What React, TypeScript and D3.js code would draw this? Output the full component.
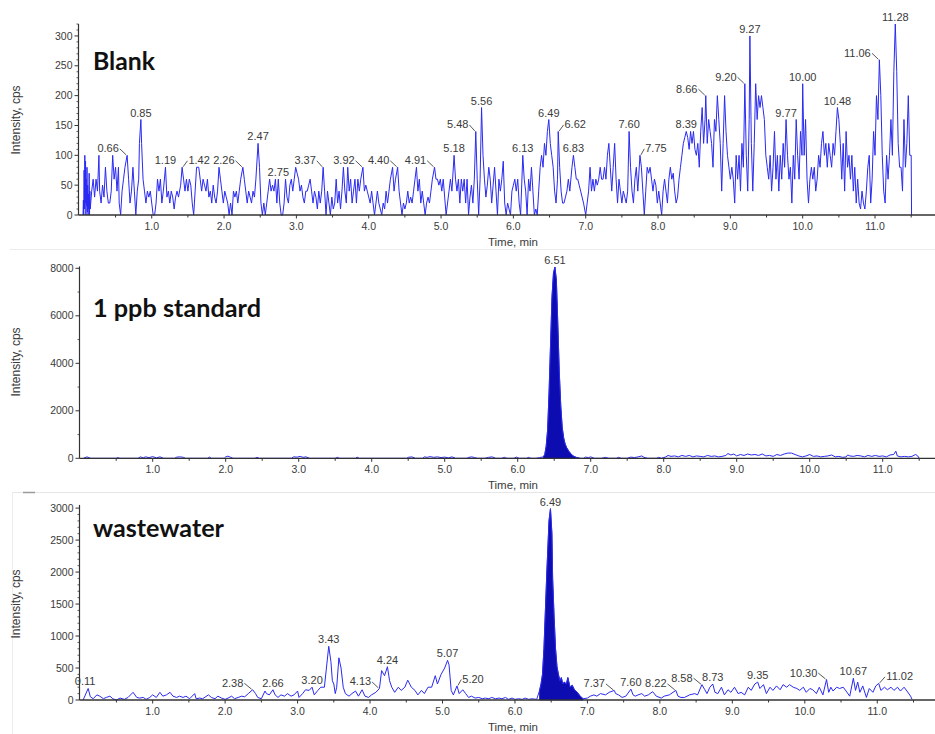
import React from "react";
import * as d3 from "d3";

// ---------- axis ticks ----------
const xTicks = [1, 2, 3, 4, 5, 6, 7, 8, 9, 10, 11];
const xMinorTicks = [0.5, 1.5, 2.5, 3.5, 4.5, 5.5, 6.5, 7.5, 8.5, 9.5, 10.5, 11.5];
const blankYTicks = [0, 50, 100, 150, 200, 250, 300];
const standardYTicks = [0, 2000, 4000, 6000, 8000];
const wastewaterYTicks = [0, 500, 1000, 1500, 2000, 2500, 3000];

// ---------- series: [time (min), intensity (cps)] ----------
const blankSeries: [number, number][] = [
  [0.05, 0], [0.055, 25], [0.06, 0], [0.065, 75], [0.07, 10], [0.075, 100], [0.08, 20], [0.085, 90], [0.09, 0], [0.095, 60],
  [0.1, 15], [0.105, 80], [0.11, 5], [0.115, 50], [0.12, 0], [0.125, 35], [0.13, 10], [0.135, 70], [0.14, 0], [0.145, 40],
  [0.15, 10], [0.17, 40], [0.19, 60], [0.21, 30], [0.23, 60], [0.25, 40], [0.27, 100], [0.28, 40], [0.3, 20], [0.32, 50],
  [0.34, 30], [0.36, 80], [0.38, 40], [0.4, 20], [0.42, 20], [0.44, 40], [0.46, 100], [0.48, 60], [0.5, 80], [0.52, 40],
  [0.54, 80], [0.55, 20], [0.57, 0], [0.59, 40], [0.61, 60], [0.63, 80], [0.66, 100], [0.68, 60], [0.7, 20], [0.72, 40],
  [0.74, 80], [0.76, 40], [0.78, 0], [0.8, 40], [0.82, 60], [0.83, 120], [0.85, 160], [0.86, 120], [0.88, 60], [0.9, 40],
  [0.92, 20], [0.94, 40], [0.96, 30], [0.98, 40], [1.0, 20], [1.02, 0], [1.04, 0], [1.06, 20], [1.08, 60], [1.1, 40],
  [1.12, 60], [1.14, 20], [1.16, 40], [1.19, 80], [1.21, 30], [1.23, 40], [1.25, 20], [1.27, 40], [1.29, 30], [1.31, 10],
  [1.33, 30], [1.35, 40], [1.37, 30], [1.4, 50], [1.42, 80], [1.44, 60], [1.46, 40], [1.48, 60], [1.5, 40], [1.52, 60],
  [1.54, 50], [1.56, 20], [1.58, 0], [1.6, 40], [1.62, 80], [1.65, 80], [1.67, 60], [1.69, 40], [1.71, 60], [1.73, 50],
  [1.75, 40], [1.77, 60], [1.79, 30], [1.81, 40], [1.83, 20], [1.85, 50], [1.87, 30], [1.89, 20], [1.91, 40], [1.93, 80],
  [1.95, 60], [1.97, 40], [1.99, 20], [2.01, 40], [2.03, 30], [2.05, 20], [2.07, 0], [2.09, 20], [2.11, 0], [2.13, 40],
  [2.15, 30], [2.17, 40], [2.19, 20], [2.21, 40], [2.23, 60], [2.26, 80], [2.28, 60], [2.3, 40], [2.32, 20], [2.34, 40],
  [2.36, 30], [2.38, 20], [2.4, 40], [2.42, 30], [2.44, 60], [2.47, 120], [2.49, 80], [2.51, 20], [2.53, 0], [2.55, 20],
  [2.57, 0], [2.59, 20], [2.61, 40], [2.63, 60], [2.65, 40], [2.67, 50], [2.69, 40], [2.71, 60], [2.73, 20], [2.75, 60],
  [2.77, 20], [2.79, 0], [2.81, 0], [2.83, 20], [2.85, 60], [2.87, 30], [2.89, 20], [2.91, 50], [2.93, 60], [2.95, 40],
  [2.97, 60], [2.99, 80], [3.01, 70], [3.03, 60], [3.05, 40], [3.07, 50], [3.09, 30], [3.11, 20], [3.13, 40], [3.15, 40],
  [3.17, 50], [3.19, 60], [3.21, 40], [3.23, 20], [3.25, 40], [3.27, 30], [3.29, 10], [3.31, 40], [3.33, 20], [3.35, 40],
  [3.37, 80], [3.39, 40], [3.41, 0], [3.43, 40], [3.45, 20], [3.47, 0], [3.49, 30], [3.51, 10], [3.53, 20], [3.55, 60],
  [3.57, 20], [3.59, 40], [3.61, 10], [3.63, 40], [3.65, 80], [3.67, 40], [3.69, 20], [3.71, 80], [3.73, 40], [3.75, 60],
  [3.77, 20], [3.79, 40], [3.81, 60], [3.83, 20], [3.85, 60], [3.87, 40], [3.89, 60], [3.92, 80], [3.94, 40], [3.96, 50],
  [3.98, 40], [4.0, 30], [4.02, 20], [4.04, 40], [4.06, 20], [4.08, 0], [4.1, 20], [4.12, 40], [4.14, 20], [4.16, 10],
  [4.18, 0], [4.2, 20], [4.22, 10], [4.24, 40], [4.26, 20], [4.28, 40], [4.3, 60], [4.33, 80], [4.35, 40], [4.37, 60],
  [4.4, 80], [4.42, 40], [4.44, 20], [4.46, 0], [4.48, 20], [4.5, 10], [4.52, 20], [4.54, 40], [4.56, 20], [4.58, 30],
  [4.6, 20], [4.62, 40], [4.64, 60], [4.66, 80], [4.68, 40], [4.7, 60], [4.72, 20], [4.74, 40], [4.76, 20], [4.78, 0],
  [4.8, 20], [4.82, 30], [4.84, 20], [4.86, 40], [4.88, 60], [4.91, 80], [4.93, 60], [4.95, 60], [4.97, 50], [4.99, 60],
  [5.01, 40], [5.03, 60], [5.05, 30], [5.07, 0], [5.09, 20], [5.11, 40], [5.13, 60], [5.15, 40], [5.18, 100], [5.2, 60],
  [5.22, 40], [5.24, 60], [5.26, 20], [5.28, 60], [5.3, 40], [5.32, 60], [5.34, 20], [5.36, 60], [5.38, 0], [5.4, 30],
  [5.42, 50], [5.44, 20], [5.46, 60], [5.48, 140], [5.5, 60], [5.52, 0], [5.54, 60], [5.56, 180], [5.58, 100], [5.6, 60],
  [5.62, 30], [5.64, 50], [5.66, 80], [5.68, 60], [5.7, 20], [5.72, 50], [5.74, 80], [5.76, 40], [5.78, 0], [5.8, 60],
  [5.82, 40], [5.84, 60], [5.86, 90], [5.88, 20], [5.9, 0], [5.92, 20], [5.94, 10], [5.96, 0], [5.98, 40], [6.0, 50],
  [6.02, 60], [6.04, 40], [6.06, 60], [6.08, 20], [6.1, 0], [6.13, 100], [6.15, 60], [6.17, 40], [6.19, 0], [6.21, 60],
  [6.23, 40], [6.25, 80], [6.27, 40], [6.29, 0], [6.31, 10], [6.33, 0], [6.35, 40], [6.37, 80], [6.39, 100], [6.41, 80],
  [6.43, 120], [6.45, 100], [6.47, 140], [6.49, 160], [6.51, 120], [6.53, 100], [6.55, 80], [6.57, 40], [6.59, 20], [6.61, 60],
  [6.62, 140], [6.64, 80], [6.66, 40], [6.68, 20], [6.7, 20], [6.72, 30], [6.74, 40], [6.76, 60], [6.78, 40], [6.81, 80],
  [6.83, 100], [6.85, 80], [6.87, 60], [6.89, 60], [6.91, 50], [6.93, 40], [6.95, 30], [6.97, 20], [7.0, 0], [7.02, 20],
  [7.04, 40], [7.06, 80], [7.08, 40], [7.1, 60], [7.12, 40], [7.14, 60], [7.16, 50], [7.18, 60], [7.2, 80], [7.22, 60],
  [7.24, 60], [7.26, 80], [7.28, 60], [7.3, 100], [7.32, 120], [7.34, 80], [7.36, 40], [7.38, 80], [7.4, 120], [7.42, 60],
  [7.44, 20], [7.46, 60], [7.48, 40], [7.5, 20], [7.52, 40], [7.54, 30], [7.56, 20], [7.58, 40], [7.6, 140], [7.62, 80],
  [7.64, 40], [7.66, 20], [7.68, 60], [7.7, 80], [7.72, 40], [7.75, 100], [7.77, 80], [7.79, 40], [7.81, 0], [7.83, 40],
  [7.85, 80], [7.87, 70], [7.89, 80], [7.91, 60], [7.93, 40], [7.95, 60], [7.97, 50], [7.99, 20], [8.01, 40], [8.03, 20],
  [8.05, 0], [8.07, 40], [8.09, 60], [8.11, 40], [8.13, 20], [8.15, 60], [8.17, 80], [8.19, 60], [8.21, 70], [8.23, 40],
  [8.25, 20], [8.27, 30], [8.29, 60], [8.31, 80], [8.33, 100], [8.35, 120], [8.37, 130], [8.39, 140], [8.41, 130], [8.43, 110],
  [8.45, 140], [8.47, 120], [8.49, 140], [8.51, 110], [8.53, 100], [8.55, 120], [8.57, 80], [8.59, 140], [8.61, 180], [8.63, 120],
  [8.65, 160], [8.66, 200], [8.68, 120], [8.7, 160], [8.72, 140], [8.74, 120], [8.76, 80], [8.78, 160], [8.8, 140], [8.82, 200],
  [8.84, 160], [8.86, 120], [8.88, 40], [8.9, 120], [8.92, 200], [8.94, 140], [8.96, 100], [8.98, 80], [9.0, 60], [9.02, 80],
  [9.04, 60], [9.06, 20], [9.08, 100], [9.1, 60], [9.12, 100], [9.14, 40], [9.16, 120], [9.18, 80], [9.2, 220], [9.22, 100],
  [9.24, 40], [9.26, 160], [9.27, 300], [9.29, 120], [9.31, 40], [9.33, 120], [9.35, 220], [9.37, 160], [9.39, 200], [9.41, 180],
  [9.43, 200], [9.45, 180], [9.47, 160], [9.49, 100], [9.51, 80], [9.53, 60], [9.55, 100], [9.57, 40], [9.59, 80], [9.61, 140],
  [9.63, 60], [9.65, 100], [9.67, 40], [9.69, 100], [9.71, 60], [9.73, 120], [9.75, 80], [9.77, 160], [9.79, 100], [9.81, 60],
  [9.83, 80], [9.85, 20], [9.87, 100], [9.89, 60], [9.91, 160], [9.93, 100], [9.95, 60], [9.97, 140], [9.99, 100], [10.0, 220],
  [10.02, 100], [10.04, 160], [10.06, 60], [10.08, 20], [10.1, 60], [10.12, 80], [10.14, 60], [10.16, 80], [10.18, 40], [10.2, 60],
  [10.22, 100], [10.24, 80], [10.26, 120], [10.28, 140], [10.3, 100], [10.32, 120], [10.34, 80], [10.36, 120], [10.38, 100], [10.4, 80],
  [10.42, 120], [10.44, 100], [10.46, 140], [10.48, 180], [10.5, 160], [10.52, 120], [10.54, 60], [10.56, 120], [10.58, 40], [10.6, 140],
  [10.62, 80], [10.64, 100], [10.66, 60], [10.68, 100], [10.7, 40], [10.72, 80], [10.74, 20], [10.76, 60], [10.78, 20], [10.8, 10],
  [10.82, 40], [10.84, 20], [10.86, 10], [10.88, 40], [10.9, 80], [10.92, 100], [10.94, 20], [10.96, 60], [10.98, 140], [11.0, 100],
  [11.02, 200], [11.04, 160], [11.06, 260], [11.08, 200], [11.1, 100], [11.12, 40], [11.14, 20], [11.16, 100], [11.18, 60], [11.2, 100],
  [11.22, 160], [11.24, 100], [11.26, 240], [11.28, 320], [11.3, 240], [11.32, 120], [11.34, 80], [11.36, 80], [11.38, 40], [11.4, 160],
  [11.42, 80], [11.44, 120], [11.46, 200], [11.48, 100], [11.5, 100], [11.505, 0],
];

const standardSeries: [number, number][] = [
  [0.05, 0], [0.1, 60], [0.15, 0], [0.5, 0], [0.52, 30], [0.55, 0], [0.8, 0], [0.83, 60], [0.87, 20], [0.9, 60],
  [0.95, 30], [1.0, 70], [1.05, 20], [1.1, 60], [1.15, 0], [1.3, 0], [1.33, 50], [1.38, 60], [1.42, 40], [1.45, 0],
  [1.75, 0], [1.78, 50], [1.8, 0], [1.98, 0], [2.0, 60], [2.03, 90], [2.07, 40], [2.1, 0], [2.4, 0], [2.43, 40],
  [2.46, 0], [2.9, 0], [2.93, 60], [2.98, 50], [3.02, 80], [3.06, 40], [3.1, 60], [3.15, 0], [3.5, 0], [3.53, 40],
  [3.56, 0], [3.78, 0], [3.8, 50], [3.83, 0], [4.48, 0], [4.5, 40], [4.55, 60], [4.6, 0], [4.7, 0], [4.72, 60],
  [4.76, 40], [4.8, 70], [4.85, 40], [4.9, 60], [4.95, 30], [5.0, 50], [5.05, 20], [5.1, 60], [5.15, 0], [5.3, 0],
  [5.33, 40], [5.37, 60], [5.41, 30], [5.45, 0], [5.55, 0], [5.6, 40], [5.65, 60], [5.7, 0], [5.78, 0], [5.82, 40],
  [5.85, 0], [5.95, 0], [5.98, 50], [6.02, 0], [6.12, 0], [6.15, 40], [6.18, 0], [6.25, 0], [6.3, 30], [6.35, 60],
  [6.37, 150], [6.39, 500], [6.41, 1200], [6.43, 2800], [6.45, 4800], [6.47, 6800], [6.49, 7800], [6.51, 8050], [6.53, 7500], [6.55, 5600],
  [6.57, 3600], [6.59, 2200], [6.61, 1300], [6.63, 850], [6.65, 600], [6.67, 450], [6.7, 300], [6.73, 180], [6.76, 100], [6.8, 40],
  [6.85, 0], [6.9, 0], [6.93, 50], [6.97, 30], [7.0, 60], [7.05, 0], [7.15, 0], [7.2, 40], [7.25, 0], [7.35, 0],
  [7.38, 40], [7.42, 0], [7.5, 0], [7.55, 50], [7.6, 30], [7.65, 60], [7.7, 100], [7.73, 40], [7.78, 0], [7.9, 0],
  [7.93, 40], [7.97, 0], [8.03, 60], [8.06, 120], [8.1, 80], [8.15, 100], [8.2, 60], [8.25, 120], [8.3, 80], [8.35, 120],
  [8.4, 60], [8.45, 100], [8.5, 80], [8.55, 60], [8.6, 120], [8.65, 80], [8.7, 100], [8.75, 60], [8.8, 80], [8.85, 120],
  [8.88, 200], [8.92, 140], [8.96, 180], [9.0, 100], [9.05, 160], [9.1, 120], [9.15, 180], [9.2, 140], [9.25, 160], [9.3, 120],
  [9.35, 180], [9.4, 100], [9.45, 120], [9.5, 80], [9.55, 160], [9.6, 120], [9.65, 180], [9.7, 220], [9.75, 220], [9.8, 160],
  [9.85, 100], [9.9, 60], [9.95, 100], [10.0, 160], [10.05, 80], [10.1, 100], [10.15, 60], [10.2, 80], [10.25, 100], [10.3, 140],
  [10.35, 60], [10.4, 80], [10.45, 40], [10.5, 60], [10.52, 140], [10.55, 100], [10.6, 80], [10.65, 120], [10.7, 100], [10.75, 60],
  [10.8, 120], [10.85, 80], [10.9, 120], [10.95, 80], [11.0, 100], [11.05, 60], [11.1, 140], [11.15, 160], [11.18, 300], [11.2, 100],
  [11.25, 60], [11.3, 80], [11.35, 60], [11.4, 80], [11.45, 160], [11.48, 100], [11.5, 0],
];

const wastewaterSeries: [number, number][] = [
  [0.04, 0], [0.11, 180], [0.14, 50], [0.18, 20], [0.23, 80], [0.27, 60], [0.32, 20], [0.36, 40], [0.41, 60], [0.45, 20],
  [0.5, 0], [0.55, 30], [0.61, 10], [0.66, 40], [0.73, 120], [0.78, 40], [0.82, 30], [0.87, 40], [0.91, 10], [0.96, 40],
  [1.0, 80], [1.05, 40], [1.1, 120], [1.14, 60], [1.19, 80], [1.24, 120], [1.28, 60], [1.33, 40], [1.37, 60], [1.42, 40],
  [1.46, 60], [1.51, 20], [1.58, 100], [1.6, 20], [1.65, 30], [1.69, 20], [1.77, 80], [1.81, 40], [1.86, 20], [1.9, 60],
  [1.95, 30], [2.0, 10], [2.04, 30], [2.09, 60], [2.13, 20], [2.18, 40], [2.23, 60], [2.27, 50], [2.32, 100], [2.38, 160],
  [2.42, 100], [2.45, 40], [2.5, 20], [2.55, 140], [2.57, 100], [2.61, 80], [2.66, 160], [2.69, 80], [2.73, 40], [2.77, 80],
  [2.82, 60], [2.86, 100], [2.91, 60], [2.95, 80], [3.0, 140], [3.02, 40], [3.07, 100], [3.11, 160], [3.16, 150], [3.2, 200],
  [3.23, 80], [3.28, 150], [3.32, 200], [3.37, 200], [3.43, 840], [3.46, 600], [3.48, 300], [3.5, 250], [3.52, 100], [3.54, 200],
  [3.57, 660], [3.6, 500], [3.63, 200], [3.66, 100], [3.71, 60], [3.75, 100], [3.8, 140], [3.84, 60], [3.89, 160], [3.93, 60],
  [3.98, 40], [4.02, 80], [4.08, 120], [4.13, 180], [4.16, 460], [4.2, 380], [4.24, 520], [4.27, 300], [4.3, 200], [4.34, 120],
  [4.39, 200], [4.43, 150], [4.48, 200], [4.52, 310], [4.57, 200], [4.62, 150], [4.66, 80], [4.71, 150], [4.75, 100], [4.8, 200],
  [4.85, 200], [4.9, 380], [4.93, 250], [4.98, 400], [5.03, 500], [5.07, 620], [5.09, 550], [5.12, 150], [5.15, 80], [5.2, 220],
  [5.23, 100], [5.28, 160], [5.32, 100], [5.36, 40], [5.4, 60], [5.45, 30], [5.5, 40], [5.55, 20], [5.59, 30], [5.64, 20],
  [5.68, 40], [5.73, 20], [5.78, 30], [5.82, 20], [5.87, 40], [5.91, 10], [5.96, 30], [6.0, 10], [6.05, 20], [6.1, 10],
  [6.14, 30], [6.19, 10], [6.23, 20], [6.3, 10], [6.34, 150], [6.36, 250], [6.38, 400], [6.4, 800], [6.42, 1400], [6.44, 2000],
  [6.47, 2800], [6.49, 2990], [6.51, 2600], [6.52, 1900], [6.54, 1300], [6.56, 800], [6.58, 520], [6.6, 400], [6.62, 300], [6.64, 350],
  [6.66, 250], [6.68, 280], [6.71, 250], [6.73, 350], [6.76, 200], [6.79, 230], [6.82, 160], [6.86, 120], [6.9, 60], [6.94, 20],
  [7.0, 30], [7.04, 60], [7.09, 80], [7.13, 60], [7.18, 100], [7.25, 80], [7.3, 120], [7.37, 150], [7.39, 100], [7.43, 80],
  [7.48, 40], [7.53, 60], [7.6, 170], [7.63, 80], [7.66, 60], [7.7, 80], [7.75, 100], [7.79, 60], [7.84, 80], [7.9, 130],
  [7.95, 60], [8.02, 30], [8.06, 60], [8.13, 80], [8.22, 150], [8.25, 60], [8.29, 40], [8.34, 40], [8.41, 80], [8.48, 100],
  [8.52, 80], [8.58, 240], [8.62, 160], [8.65, 100], [8.69, 200], [8.73, 250], [8.76, 120], [8.8, 100], [8.85, 200], [8.89, 80],
  [8.94, 160], [8.98, 120], [9.03, 200], [9.08, 100], [9.12, 120], [9.17, 80], [9.22, 200], [9.26, 150], [9.31, 250], [9.35, 280],
  [9.38, 180], [9.43, 240], [9.47, 100], [9.52, 200], [9.56, 150], [9.61, 220], [9.66, 160], [9.7, 240], [9.75, 200], [9.79, 240],
  [9.84, 200], [9.89, 180], [9.93, 150], [9.98, 200], [10.02, 120], [10.07, 180], [10.11, 160], [10.16, 100], [10.2, 200], [10.25, 80],
  [10.3, 320], [10.33, 120], [10.36, 200], [10.39, 140], [10.44, 200], [10.48, 180], [10.53, 200], [10.57, 140], [10.62, 60], [10.67, 340],
  [10.7, 150], [10.73, 280], [10.76, 120], [10.8, 220], [10.85, 40], [10.89, 180], [10.94, 120], [10.98, 220], [11.02, 260], [11.05, 150],
  [11.1, 200], [11.14, 160], [11.19, 200], [11.23, 150], [11.28, 200], [11.32, 140], [11.37, 200], [11.41, 140], [11.46, 60], [11.48, 10],
];

// ---------- peak labels (retention times) ----------
const blankPeaks = ["0.66", "0.85", "1.19", "1.42", "2.26", "2.47", "2.75", "3.37", "3.92", "4.40", "4.91", "5.18", "5.48", "5.56",
  "6.13", "6.49", "6.62", "6.83", "7.60", "7.75", "8.39", "8.66", "9.20", "9.27", "9.77", "10.00", "10.48", "11.06", "11.28"];
const standardPeaks = ["6.51"];
const wastewaterPeaks = ["0.11", "2.38", "2.66", "3.20", "3.43", "4.13", "4.24", "5.07", "5.20", "6.49", "7.37", "7.60", "8.22",
  "8.58", "8.73", "9.35", "10.30", "10.67", "11.02"];

// integrated peak windows (min)
const standardFillWindow = [6.35, 6.86];
const wastewaterFillWindow = [6.32, 6.96];

// ---------- layout (pixels) ----------
const blankLabelShift: Record<string, number> = {
  "0.66": -19, "1.42": 17, "2.26": -19, "3.37": -18, "3.92": -19, "4.40": -19, "4.91": -19, "5.48": -18,
  "6.62": 17, "7.75": 16, "8.66": -19, "9.20": -19, "11.06": -22,
};
const wastewaterLabelShift: Record<string, number> = {
  "0.11": -3, "2.38": -20, "4.13": -19, "5.20": 16, "7.37": -20, "8.22": -20, "8.58": -20, "10.30": -23, "11.02": 21,
};

const W = 935;
const H = 734;
const LINE = "#2a2af2";
const FILL = "#0c0cb0";
const TXT = "#3a3a3a";
const NUMFONT = "'Liberation Sans', Arial, sans-serif";

type Panel = {
  title: string;
  titleWidth: number;
  titleY: number;
  series: [number, number][];
  peaks: string[];
  shifts: Record<string, number>;
  yTicks: number[];
  yMinorStep: number;
  yMax: number;
  x0: number;
  pxPerMin: number;
  y0: number;
  yTop: number;
  yLabelY: number;
  fill: number[] | null;
};

const panels: Panel[] = [
  {
    title: "Blank", titleWidth: 62, titleY: 69.5, series: blankSeries, peaks: blankPeaks, shifts: blankLabelShift,
    yTicks: blankYTicks, yMinorStep: 10, yMax: 320, x0: 79.4, pxPerMin: 72.33, y0: 215, yTop: 24, yLabelY: 120, fill: null,
  },
  {
    title: "1 ppb standard", titleWidth: 168, titleY: 317, series: standardSeries, peaks: standardPeaks, shifts: {},
    yTicks: standardYTicks, yMinorStep: 1000, yMax: 8080, x0: 79.7, pxPerMin: 73, y0: 458.3, yTop: 266.4, yLabelY: 362,
    fill: standardFillWindow,
  },
  {
    title: "wastewater", titleWidth: 131, titleY: 537, series: wastewaterSeries, peaks: wastewaterPeaks, shifts: wastewaterLabelShift,
    yTicks: wastewaterYTicks, yMinorStep: 100, yMax: 3050, x0: 80.2, pxPerMin: 72.46, y0: 700, yTop: 504.9, yLabelY: 604,
    fill: wastewaterFillWindow,
  },
];

function PanelView({ p }: { p: Panel }) {
  const xMaxMin = (W - p.x0) / p.pxPerMin;
  const x = d3.scaleLinear().domain([0, xMaxMin]).range([p.x0, W]);
  const y = d3.scaleLinear().domain([0, p.yMax]).range([p.y0, p.yTop]);
  const line = d3.line<[number, number]>().x((d) => x(d[0])).y((d) => y(d[1]));
  const area = d3.area<[number, number]>().x((d) => x(d[0])).y0(y(0)).y1((d) => y(d[1]));
  const fillPts = p.fill ? p.series.filter((d) => d[0] >= p.fill![0] && d[0] <= p.fill![1]) : [];
  const minor = d3.range(0, p.yMax + 1e-6, p.yMinorStep).filter((v) => !p.yTicks.includes(v));
  const ax = Math.round(p.x0) - 0.5;

  const apex = (t: number) => {
    let best = p.series[0];
    for (const d of p.series) if (Math.abs(d[0] - t) < Math.abs(best[0] - t)) best = d;
    return best;
  };

  return (
    <g>
      {/* data */}
      {fillPts.length > 0 && <path d={area(fillPts) || ""} fill={FILL} stroke={FILL} strokeWidth={0.8} />}
      <path d={line(p.series) || ""} fill="none" stroke={LINE} strokeWidth={1} strokeLinejoin="miter" />

      {/* y axis */}
      <line x1={ax} x2={ax} y1={p.y0} y2={p.yTop} stroke="#333" strokeWidth={1.2} />
      {p.yTicks.map((v) => (
        <g key={"yt" + v}>
          <line x1={ax - 4} x2={ax} y1={y(v)} y2={y(v)} stroke="#333" strokeWidth={1} />
          <text x={ax - 6} y={y(v)} dy="0.35em" textAnchor="end" fontSize={10.5} fontFamily={NUMFONT} fill={TXT}>
            {v}
          </text>
        </g>
      ))}
      {minor.map((v) => (
        <line key={"ym" + v} x1={ax - 2} x2={ax} y1={y(v)} y2={y(v)} stroke="#333" strokeWidth={0.8} />
      ))}

      {/* x axis */}
      <line x1={ax} x2={W} y1={p.y0} y2={p.y0} stroke="#333" strokeWidth={1.3} />
      {xTicks.map((t) => (
        <g key={"xt" + t}>
          <line x1={x(t)} x2={x(t)} y1={p.y0} y2={p.y0 + 3.5} stroke="#333" strokeWidth={1} />
          <text x={x(t)} y={p.y0 + 15} textAnchor="middle" fontSize={10.5} fontFamily={NUMFONT} fill={TXT}>
            {t.toFixed(1)}
          </text>
        </g>
      ))}
      {xMinorTicks.map((t) => (
        <line key={"xm" + t} x1={x(t)} x2={x(t)} y1={p.y0} y2={p.y0 + 2.5} stroke="#333" strokeWidth={1} />
      ))}
      <text x={513} y={p.y0 + 31} textAnchor="middle" fontSize={11.5} fontFamily={NUMFONT} fill={TXT}>
        Time, min
      </text>
      <text
        transform={`translate(20,${p.yLabelY}) rotate(-90)`}
        textAnchor="middle"
        fontSize={12}
        fontFamily={NUMFONT}
        fill={TXT}
      >
        Intensity, cps
      </text>

      {/* title */}
      <text
        x={93}
        y={p.titleY}
        fontSize={25}
        fontWeight={700}
        fontFamily="Lato, 'Open Sans', sans-serif"
        fill="#111"
        textLength={p.titleWidth}
        lengthAdjust="spacingAndGlyphs"
      >
        {p.title}
      </text>

      {/* peak labels */}
      {p.peaks.map((lab) => {
        const t = parseFloat(lab);
        const a = apex(t);
        const px = x(a[0]);
        const py = y(a[1]);
        const dx = p.shifts[lab] || 0;
        const cx = px + dx;
        const base = py - 3;
        const halfW = ((lab.length - 1) * 6.1 + 3) / 2;
        const leader = Math.abs(dx) > 8;
        return (
          <g key={"pk" + lab}>
            {leader && (
              <line
                x1={dx < 0 ? cx + halfW + 1 : cx - halfW - 1}
                y1={base - 3.5}
                x2={dx < 0 ? px - 1 : px + 1}
                y2={py - 0.5}
                stroke="#444"
                strokeWidth={0.9}
              />
            )}
            <text x={cx} y={base} textAnchor="middle" fontSize={11} fontFamily={NUMFONT} fill={TXT}>
              {lab}
            </text>
          </g>
        );
      })}
    </g>
  );
}

export default function App() {
  return (
    <svg
      width={W}
      height={H}
      viewBox={`0 0 ${W} ${H}`}
      style={{ position: "absolute", left: 0, top: 0, background: "#fff" }}
    >
      <rect x={0} y={0} width={W} height={H} fill="#fff" />
      {/* faint panel frames */}
      <line x1={10} x2={W} y1={249.5} y2={249.5} stroke="#ececec" strokeWidth={1} />
      <line x1={12} x2={W} y1={492.5} y2={492.5} stroke="#e6e6e6" strokeWidth={1} />
      <line x1={12.5} x2={12.5} y1={492} y2={H} stroke="#ededed" strokeWidth={1} />
      <line x1={23} x2={35} y1={492.5} y2={492.5} stroke="#9a9a9a" strokeWidth={1.5} />
      {panels.map((p) => (
        <PanelView key={p.title} p={p} />
      ))}
    </svg>
  );
}
